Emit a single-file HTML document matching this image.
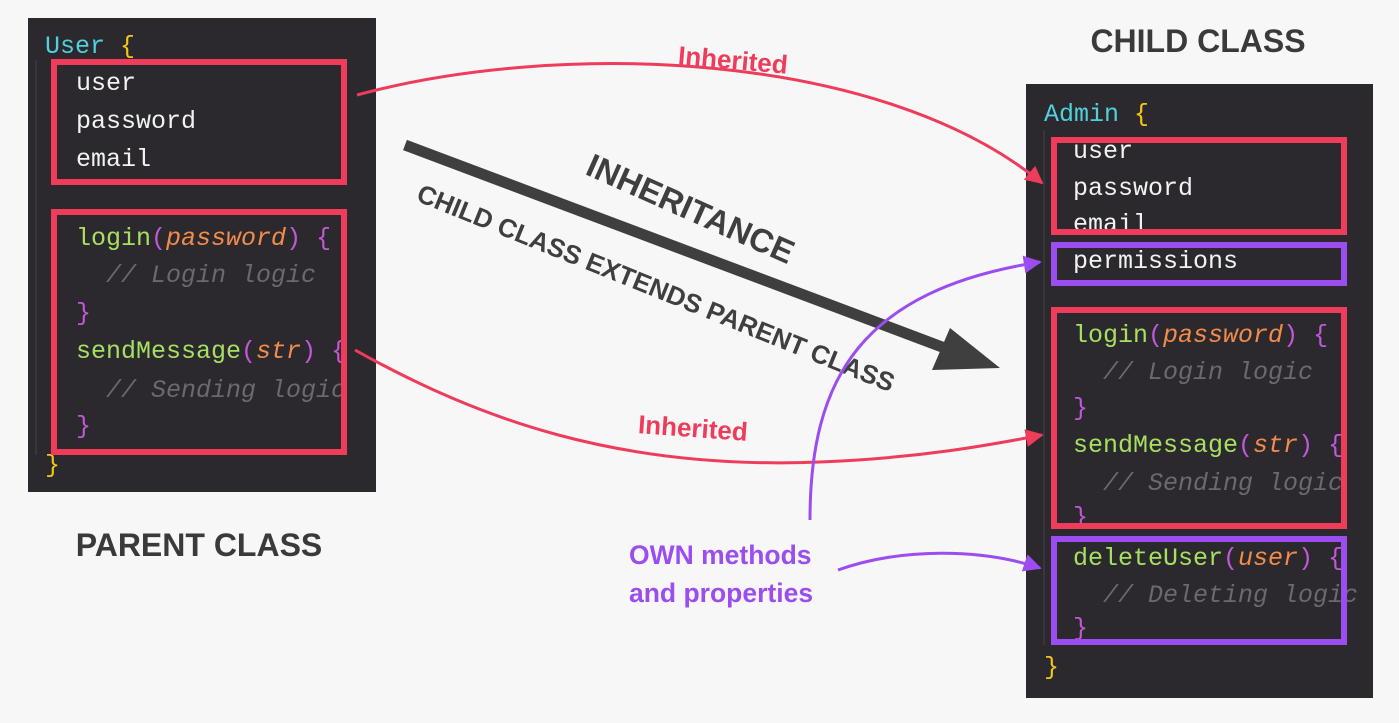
<!DOCTYPE html>
<html><head><meta charset="utf-8"><style>
html,body{margin:0;padding:0;background:#f7f7f7;}
svg{display:block;}
.m{font-family:"Liberation Mono","DejaVu Sans Mono",monospace;font-size:25px;}
.w{fill:#f2f2f2}.c{fill:#4fd0dc}.y{fill:#f5c518}.g{fill:#a6e060}.o{fill:#f28c4a;font-style:italic}.p{fill:#c158d8}.k{fill:#6b6870;font-style:italic}
.h{font-family:"Liberation Sans",sans-serif;font-weight:bold;}
</style></head><body>
<svg width="1399" height="723" viewBox="0 0 1399 723" xmlns="http://www.w3.org/2000/svg">
<defs>
<marker id="ar" viewBox="0 0 10 10" refX="9" refY="5" markerWidth="6" markerHeight="6" orient="auto"><path d="M0,0 L10,5 L0,10 z" fill="#ee3c5a"/></marker>
<marker id="ap" viewBox="0 0 10 10" refX="9" refY="5" markerWidth="6" markerHeight="6" orient="auto"><path d="M0,0 L10,5 L0,10 z" fill="#9b4df0"/></marker>
</defs>
<!-- left panel -->
<rect x="28" y="18" width="348" height="474" fill="#2b292e"/>
<line x1="36" y1="60" x2="36" y2="455" stroke="#444" stroke-width="1"/>
<text class="m" x="45" y="53"><tspan class="c">User</tspan> <tspan class="y">{</tspan></text>
<text class="m w" x="76" y="90">user</text>
<text class="m w" x="76" y="128">password</text>
<text class="m w" x="76" y="166">email</text>
<text class="m" x="76" y="245"><tspan class="g">login</tspan><tspan class="p">(</tspan><tspan class="o">password</tspan><tspan class="p">) {</tspan></text>
<text class="m k" x="106" y="282">// Login logic</text>
<text class="m p" x="76" y="320">}</text>
<text class="m" x="76" y="358"><tspan class="g">sendMessage</tspan><tspan class="p">(</tspan><tspan class="o">str</tspan><tspan class="p">) {</tspan></text>
<text class="m k" x="106" y="397">// Sending logic</text>
<text class="m p" x="76" y="433">}</text>
<text class="m y" x="45" y="472">}</text>
<rect x="376" y="18" width="30" height="474" fill="#f7f7f7"/>
<rect x="346" y="212" width="30" height="240" fill="#2b292e"/>
<rect x="54" y="62" width="290" height="120" fill="none" stroke="#ee3c5a" stroke-width="6"/>
<rect x="54" y="212" width="290" height="240" fill="none" stroke="#ee3c5a" stroke-width="6"/>
<!-- right panel -->
<rect x="1026" y="84" width="347" height="614" fill="#2b292e"/>
<line x1="1044" y1="130" x2="1044" y2="645" stroke="#444" stroke-width="1"/>
<text class="m" x="1044" y="121"><tspan class="c">Admin</tspan> <tspan class="y">{</tspan></text>
<text class="m w" x="1073" y="158">user</text>
<text class="m w" x="1073" y="195">password</text>
<text class="m w" x="1073" y="231">email</text>
<text class="m w" x="1073" y="268">permissions</text>
<text class="m" x="1073" y="342"><tspan class="g">login</tspan><tspan class="p">(</tspan><tspan class="o">password</tspan><tspan class="p">) {</tspan></text>
<text class="m k" x="1103" y="379">// Login logic</text>
<text class="m p" x="1073" y="415">}</text>
<text class="m" x="1073" y="452"><tspan class="g">sendMessage</tspan><tspan class="p">(</tspan><tspan class="o">str</tspan><tspan class="p">) {</tspan></text>
<text class="m k" x="1103" y="490">// Sending logic</text>
<text class="m p" x="1073" y="524">}</text>
<text class="m" x="1073" y="565"><tspan class="g">deleteUser</tspan><tspan class="p">(</tspan><tspan class="o">user</tspan><tspan class="p">) {</tspan></text>
<text class="m k" x="1103" y="602">// Deleting logic</text>
<text class="m p" x="1073" y="635">}</text>
<text class="m y" x="1044" y="674">}</text>
<rect x="1373" y="84" width="26" height="614" fill="#f7f7f7"/>
<rect x="1054" y="140" width="290" height="92" fill="none" stroke="#ee3c5a" stroke-width="6"/>
<rect x="1054" y="245" width="290" height="38" fill="none" stroke="#9b4df0" stroke-width="6"/>
<rect x="1054" y="310" width="290" height="216" fill="none" stroke="#ee3c5a" stroke-width="6"/>
<rect x="1054" y="539" width="290" height="103" fill="none" stroke="#9b4df0" stroke-width="6"/>
<!-- big arrow -->
<line x1="405" y1="145" x2="950" y2="350" stroke="#3f3f3f" stroke-width="11"/>
<path d="M1000,368 L932,370 L950,328 z" fill="#3f3f3f"/>
<text class="h" x="690" y="220" font-size="33" fill="#3f3f3f" text-anchor="middle" transform="rotate(24 690 210)">INHERITANCE</text>
<text class="h" x="656" y="297" font-size="26" fill="#3f3f3f" text-anchor="middle" transform="rotate(22 656 288)">CHILD CLASS EXTENDS PARENT CLASS</text>
<!-- connectors -->
<path d="M357,95 C560,40 880,50 1042,183" fill="none" stroke="#ee3c5a" stroke-width="3" marker-end="url(#ar)"/>
<path d="M355,350 C480,420 620,470 820,462 C920,458 990,445 1042,435" fill="none" stroke="#ee3c5a" stroke-width="3" marker-end="url(#ar)"/>
<text class="h" x="733" y="69" font-size="26" fill="#ee3c5a" text-anchor="middle" transform="rotate(5 733 60)">Inherited</text>
<text class="h" x="693" y="437" font-size="26" fill="#ee3c5a" text-anchor="middle" transform="rotate(4 693 428)">Inherited</text>
<path d="M810,520 C810,380 860,290 1040,262" fill="none" stroke="#9b4df0" stroke-width="3" marker-end="url(#ap)"/>
<path d="M838,570 C900,548 980,548 1040,568" fill="none" stroke="#9b4df0" stroke-width="3" marker-end="url(#ap)"/>
<!-- titles -->
<text class="h" x="1198" y="52" font-size="32" fill="#3a3a3a" text-anchor="middle">CHILD CLASS</text>
<text class="h" x="199" y="556" font-size="32" fill="#3a3a3a" text-anchor="middle">PARENT CLASS</text>
<text class="h" x="629" y="564" font-size="26.5" fill="#9b4df0">OWN methods</text>
<text class="h" x="629" y="602" font-size="26.5" fill="#9b4df0">and properties</text>
</svg>
</body></html>
